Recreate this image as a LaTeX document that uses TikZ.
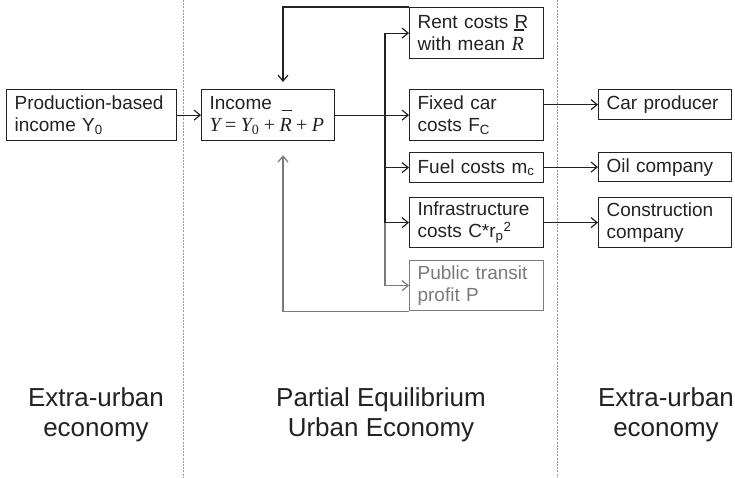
\documentclass[tikz,border=0pt]{standalone}
\usepackage{fontspec}
\setmainfont{Liberation Sans}
\newfontfamily\tms{Liberation Serif}
\usetikzlibrary{arrows.meta,calc}
\definecolor{ink}{HTML}{222222}
\definecolor{pale}{HTML}{7A7A7A}
\definecolor{dashc}{HTML}{9A9A9A}
\newcommand\Rb{\smash{\makebox[0pt][l]{\hspace{0.12em}\rule[1.0em]{0.5em}{0.06em}}}R}
\newcommand\fsp{\hspace{0.22em}}
\newcommand\formula{{\tms\fontsize{20}{22}\selectfont\itshape Y\fsp\upshape=\fsp\itshape Y\textsubscript{\upshape 0}\fsp\upshape+\fsp\itshape\Rb\fsp\upshape+\fsp\itshape P}}
\tikzset{
  box/.style={draw=ink, line width=1.2pt, rectangle, anchor=north west, inner xsep=8pt, inner ysep=1pt,
    align=left, font=\fontsize{19}{22}\selectfont, text=ink},
  gbox/.style={box, draw=pale, text=pale},
  ln/.style={draw=ink, line width=1.2pt},
  lng/.style={draw=pale, line width=1.2pt},
  arr/.style={ln, -{Straight Barb[length=6pt,width=10pt]}},
  arrg/.style={lng, -{Straight Barb[length=6pt,width=10pt]}},
  sep/.style={draw=dashc, line width=0.7pt, dash pattern=on 2pt off 1.2pt},
  region/.style={align=center, font=\fontsize{26}{30}\selectfont, text=ink}
}
\begin{document}
\begin{tikzpicture}[x=1pt,y=-1pt]
\useasboundingbox (0,0) rectangle (735,477);
% separators
\coordinate (s1t) at (183,0); \coordinate (s1b) at (183,477);
\coordinate (s2t) at (557,0); \coordinate (s2b) at (557,477);
\draw[sep] (s1t) -- (s1b);
\draw[sep] (s2t) -- (s2b);
% boxes
\node[box, minimum width=170pt, minimum height=51pt, text width=154pt] (prod) at (6,89) {Production-based\\income Y\textsubscript{0}};
\node[box, minimum width=133pt, minimum height=51pt, text width=117pt] (inc) at (201,89) {Income\\\formula};
\node[box, minimum width=134pt, minimum height=51pt, text width=118pt] (rent) at (409,7) {Rent costs R\\with mean {\tms\fontsize{20}{22}\selectfont\itshape\Rb}};
\node[box, minimum width=134pt, minimum height=51pt, text width=118pt] (fixed) at (409,89) {Fixed car\\costs F\textsubscript{C}};
\node[box, minimum width=134pt, minimum height=30pt, text width=118pt] (fuel) at (409,152) {Fuel costs m\textsubscript{c}};
\node[box, minimum width=134pt, minimum height=50pt, text width=118pt] (infra) at (409,197) {Infrastructure\\costs C*r\textsubscript{p}\textsuperscript{2}};
\node[gbox, minimum width=134pt, minimum height=50pt, text width=118pt] (pt) at (409,260) {Public transit\\profit P};
\node[box, minimum width=133pt, minimum height=30pt, text width=117pt] (car) at (598,89) {Car producer};
\node[box, minimum width=133pt, minimum height=29pt, text width=117pt] (oil) at (598,152) {Oil company};
\node[box, minimum width=133pt, minimum height=50pt, text width=117pt] (cons) at (598,197) {Construction\\company};
% region labels
\node[region] (lreg) at (96,415) {Extra-urban\\economy};
\node[region] (mreg) at (381,415) {Partial Equilibrium\\Urban Economy};
\node[region] (rreg) at (666,415) {Extra-urban\\economy};
% connectors
\coordinate (bx) at (385,0);
\coordinate (fx) at (283,0);
\draw[arr] (prod) -- (inc);
\draw[arr] (inc.east) -- (fixed.west);
\draw[ln] (rent.west -| bx) -- (infra.west -| bx);
\draw[lng] (infra.west -| bx) -- (pt.west -| bx);
\draw[arr] (rent.west -| bx) -- (rent.west);
\draw[arr] (fuel.west -| bx) -- (fuel.west);
\draw[arr] (infra.west -| bx) -- (infra.west);
\draw[arrg] (pt.west -| bx) -- (pt.west);
\draw[arr, shorten >=7pt] (rent.north west) -| (inc.north -| fx);
\draw[arrg, shorten >=14pt] (pt.south west) -| (inc.south -| fx);
\draw[arr] (car.west -| fixed.east) -- (car.west);
\draw[arr] (oil.west -| fuel.east) -- (oil.west);
\draw[arr] (cons.west -| infra.east) -- (cons.west);
\end{tikzpicture}
\end{document}
